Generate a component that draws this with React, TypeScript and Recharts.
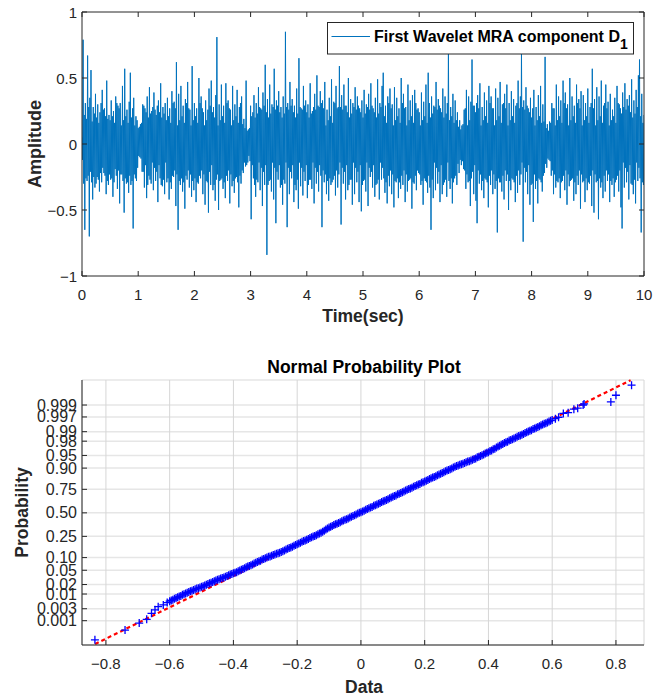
import React from 'react';
import {
  LineChart, Line, XAxis, YAxis, ScatterChart, Scatter,
  CartesianGrid, ReferenceLine,
} from 'recharts';

const FONT = '"Liberation Sans", Arial, Helvetica, sans-serif';
const AXIS_COLOR = '#262626';

// first wavelet detail D1, one value every 0.01 s (one row = 0.5 s)
const SAMPLE_STEP = 0.01;
const d1Amplitude = [
  0.05, -0.12, 0.79, -0.30, 0.22, -0.65, 0.31, -0.26, 0.19, -0.28, 0.67, -0.24, 0.28, -0.70, 0.35, -0.21, 0.56, -0.29, 0.17, -0.42, 0.28, -0.25, 0.23, -0.33, 0.38, -0.30, 0.20, -0.25, 0.30, -0.27, 0.16, -0.36, 0.24, -0.22, 0.31, -0.29, 0.41, -0.18, 0.26, -0.22, 0.27, -0.24, 0.21, -0.38, 0.48, -0.28, 0.19, -0.31, 0.22, -0.23,
  0.18, -0.27, 0.33, -0.26, 0.21, -0.40, 0.25, -0.29, 0.16, -0.19, 0.36, -0.24, 0.31, -0.34, 0.29, -0.20, 0.27, -0.45, 0.31, -0.23, 0.14, -0.23, 0.44, -0.28, 0.18, -0.52, 0.57, -0.26, 0.21, -0.30, 0.26, -0.29, 0.16, -0.37, 0.32, -0.24, 0.54, -0.31, 0.20, -0.28, 0.27, -0.64, 0.35, -0.23, 0.14, -0.26, 0.21, -0.28, 0.18, -0.18,
  0.12, -0.09, 0.13, -0.10, 0.15, -0.11, 0.16, -0.21, 0.30, -0.21, 0.29, -0.33, 0.27, -0.16, 0.24, -0.41, 0.36, -0.31, 0.20, -0.24, 0.43, -0.27, 0.23, -0.30, 0.25, -0.14, 0.28, -0.35, 0.39, -0.18, 0.26, -0.28, 0.22, -0.21, 0.29, -0.44, 0.33, -0.16, 0.24, -0.26, 0.46, -0.31, 0.20, -0.32, 0.28, -0.27, 0.23, -0.38, 0.31, -0.14,
  0.18, -0.29, 0.35, -0.26, 0.21, -0.42, 0.27, -0.29, 0.16, -0.34, 0.40, -0.24, 0.31, -0.25, 0.32, -0.20, 0.27, -0.47, 0.62, -0.23, 0.14, -0.65, 0.38, -0.28, 0.18, -0.31, 0.44, -0.26, 0.21, -0.36, 0.29, -0.29, 0.16, -0.49, 0.34, -0.24, 0.31, -0.27, 0.47, -0.20, 0.27, -0.33, 0.26, -0.23, 0.14, -0.40, 0.59, -0.28, 0.18, -0.35,
  0.31, -0.26, 0.21, -0.44, 0.27, -0.29, 0.16, -0.30, 0.50, -0.24, 0.31, -0.26, 0.36, -0.20, 0.27, -0.38, 0.24, -0.23, 0.14, -0.46, 0.33, -0.28, 0.18, -0.29, 0.26, -0.52, 0.42, -0.21, 0.29, -0.31, 0.48, -0.16, 0.24, -0.35, 0.28, -0.31, 0.20, -0.43, 0.37, -0.27, 0.81, -0.23, 0.14, -0.50, 0.30, -0.28, 0.18, -0.27, 0.45, -0.26,
  0.21, -0.34, 0.29, -0.29, 0.16, -0.41, 0.46, -0.24, 0.31, -0.28, 0.33, -0.20, 0.27, -0.45, 0.26, -0.23, 0.14, -0.32, 0.44, -0.28, 0.18, -0.37, 0.30, -0.26, 0.21, -0.25, 0.41, -0.29, 0.16, -0.48, 0.28, -0.24, 0.31, -0.30, 0.36, -0.20, 0.15, -0.22, 0.19, -0.14, 0.12, -0.17, 0.48, -0.16, 0.10, -0.14, 0.11, -0.09, 0.12, -0.13,
  0.29, -0.57, 0.21, -0.16, 0.24, -0.26, 0.37, -0.31, 0.20, -0.40, 0.31, -0.27, 0.23, -0.29, 0.43, -0.14, 0.28, -0.35, 0.27, -0.18, 0.26, -0.47, 0.39, -0.21, 0.29, -0.31, 0.60, -0.16, 0.24, -0.84, 0.34, -0.31, 0.20, -0.28, 0.45, -0.27, 0.23, -0.36, 0.30, -0.14, 0.28, -0.42, 0.57, -0.18, 0.26, -0.60, 0.33, -0.21, 0.29, -0.27,
  0.40, -0.16, 0.24, -0.33, 0.28, -0.31, 0.20, -0.46, 0.36, -0.27, 0.23, -0.30, 0.85, -0.14, 0.28, -0.63, 0.31, -0.18, 0.26, -0.38, 0.47, -0.21, 0.29, -0.26, 0.34, -0.16, 0.24, -0.44, 0.29, -0.31, 0.20, -0.35, 0.42, -0.27, 0.23, -0.49, 0.65, -0.14, 0.28, -0.32, 0.27, -0.18, 0.26, -0.39, 0.44, -0.21, 0.29, -0.28, 0.33, -0.16,
  0.24, -0.41, 0.30, -0.31, 0.20, -0.27, 0.46, -0.27, 0.23, -0.34, 0.25, -0.14, 0.28, -0.45, 0.38, -0.18, 0.26, -0.30, 0.52, -0.21, 0.29, -0.36, 0.28, -0.16, 0.40, -0.24, 0.31, -0.63, 0.33, -0.20, 0.27, -0.29, 0.47, -0.23, 0.14, -0.38, 0.26, -0.28, 0.18, -0.43, 0.35, -0.26, 0.21, -0.31, 0.49, -0.29, 0.16, -0.27, 0.32, -0.24,
  0.31, -0.39, 0.44, -0.20, 0.27, -0.33, 0.28, -0.23, 0.59, -0.14, 0.28, -0.61, 0.37, -0.18, 0.26, -0.30, 0.45, -0.21, 0.29, -0.42, 0.29, -0.16, 0.24, -0.35, 0.50, -0.31, 0.20, -0.27, 0.34, -0.27, 0.23, -0.46, 0.31, -0.14, 0.28, -0.38, 0.43, -0.18, 0.26, -0.29, 0.36, -0.21, 0.29, -0.44, 0.27, -0.16, 0.24, -0.51, 0.33, -0.31,
  0.20, -0.28, 0.41, -0.27, 0.23, -0.36, 0.30, -0.14, 0.28, -0.47, 0.38, -0.18, 0.26, -0.25, 0.46, -0.21, 0.29, -0.33, 0.27, -0.16, 0.24, -0.40, 0.35, -0.31, 0.20, -0.30, 0.49, -0.27, 0.23, -0.42, 0.31, -0.14, 0.28, -0.27, 0.44, -0.18, 0.54, -0.26, 0.21, -0.37, 0.29, -0.29, 0.16, -0.45, 0.36, -0.24, 0.31, -0.32, 0.42, -0.20,
  0.27, -0.38, 0.30, -0.23, 0.14, -0.48, 0.43, -0.28, 0.18, -0.29, 0.35, -0.26, 0.21, -0.41, 0.27, -0.29, 0.16, -0.34, 0.50, -0.24, 0.31, -0.31, 0.38, -0.20, 0.27, -0.44, 0.28, -0.23, 0.14, -0.36, 0.45, -0.28, 0.18, -0.27, 0.33, -0.26, 0.21, -0.49, 0.37, -0.29, 0.16, -0.30, 0.41, -0.24, 0.31, -0.35, 0.26, -0.20, 0.27, -0.22,
  0.24, -0.23, 0.14, -0.31, 0.39, -0.28, 0.18, -0.46, 0.32, -0.26, 0.21, -0.28, 0.45, -0.29, 0.16, -0.37, 0.54, -0.24, 0.31, -0.33, 0.20, -0.65, 0.36, -0.27, 0.23, -0.41, 0.29, -0.14, 0.28, -0.35, 0.47, -0.18, 0.26, -0.30, 0.34, -0.21, 0.29, -0.44, 0.27, -0.16, 0.24, -0.38, 0.42, -0.31, 0.20, -0.29, 0.36, -0.27, 0.23, -0.40,
  0.31, -0.14, 0.72, -0.28, 0.18, -0.34, 0.28, -0.26, 0.21, -0.45, 0.38, -0.29, 0.16, -0.26, 0.33, -0.24, 0.18, -0.31, 0.24, -0.15, 0.13, -0.22, 0.18, -0.12, 0.11, -0.16, 0.14, -0.13, 0.15, -0.19, 0.26, -0.20, 0.27, -0.34, 0.41, -0.23, 0.14, -0.29, 0.36, -0.28, 0.18, -0.47, 0.32, -0.26, 0.64, -0.21, 0.29, -0.38, 0.29, -0.16,
  0.24, -0.43, 0.31, -0.60, 0.37, -0.20, 0.27, -0.30, 0.46, -0.23, 0.14, -0.35, 0.28, -0.28, 0.18, -0.41, 0.39, -0.26, 0.21, -0.27, 0.33, -0.29, 0.16, -0.48, 0.44, -0.24, 0.31, -0.31, 0.36, -0.20, 0.27, -0.38, 0.27, -0.23, 0.14, -0.34, 0.42, -0.28, 0.18, -0.67, 0.35, -0.26, 0.21, -0.29, 0.47, -0.29, 0.16, -0.36, 0.30, -0.24,
  0.31, -0.42, 0.38, -0.20, 0.27, -0.28, 0.45, -0.23, 0.14, -0.50, 0.31, -0.28, 0.18, -0.35, 0.40, -0.26, 0.21, -0.27, 0.34, -0.29, 0.16, -0.44, 0.29, -0.24, 0.31, -0.37, 0.48, -0.20, 0.27, -0.31, 0.36, -0.23, 0.70, -0.14, 0.28, -0.74, 0.33, -0.18, 0.26, -0.29, 0.43, -0.21, 0.29, -0.38, 0.27, -0.16, 0.24, -0.46, 0.35, -0.31,
  0.20, -0.30, 0.27, -0.59, 0.41, -0.23, 0.14, -0.34, 0.28, -0.28, 0.18, -0.45, 0.37, -0.26, 0.21, -0.27, 0.44, -0.29, 0.16, -0.36, 0.30, -0.24, 0.17, -0.22, 0.66, -0.15, 0.12, -0.18, 0.15, -0.11, 0.10, -0.12, 0.17, -0.13, 0.16, -0.24, 0.31, -0.20, 0.27, -0.38, 0.27, -0.23, 0.14, -0.33, 0.45, -0.28, 0.18, -0.29, 0.36, -0.26,
  0.21, -0.41, 0.33, -0.29, 0.16, -0.28, 0.48, -0.24, 0.31, -0.35, 0.39, -0.20, 0.27, -0.46, 0.30, -0.23, 0.14, -0.32, 0.50, -0.28, 0.18, -0.27, 0.36, -0.26, 0.21, -0.43, 0.29, -0.29, 0.16, -0.38, 0.45, -0.24, 0.31, -0.31, 0.34, -0.20, 0.27, -0.49, 0.40, -0.23, 0.14, -0.29, 0.37, -0.28, 0.18, -0.44, 0.31, -0.26, 0.21, -0.35,
  0.42, -0.29, 0.16, -0.30, 0.28, -0.24, 0.31, -0.47, 0.57, -0.20, 0.27, -0.52, 0.34, -0.23, 0.14, -0.29, 0.43, -0.28, 0.18, -0.57, 0.36, -0.26, 0.21, -0.33, 0.48, -0.29, 0.16, -0.41, 0.29, -0.24, 0.31, -0.36, 0.45, -0.20, 0.27, -0.28, 0.32, -0.23, 0.14, -0.44, 0.38, -0.28, 0.18, -0.31, 0.26, -0.26, 0.21, -0.40, 0.35, -0.29,
  0.16, -0.27, 0.44, -0.24, 0.31, -0.36, 0.30, -0.20, 0.27, -0.48, 0.23, -0.64, 0.39, -0.14, 0.28, -0.33, 0.46, -0.18, 0.26, -0.29, 0.34, -0.21, 0.29, -0.42, 0.37, -0.16, 0.24, -0.30, 0.49, -0.31, 0.20, -0.38, 0.33, -0.27, 0.23, -0.45, 0.41, -0.14, 0.28, -0.28, 0.52, -0.18, 0.64, -0.26, 0.21, -0.67, 0.38, -0.29, 0.16, -0.31,
  0.22,
];

const timeTicks = [0, 1, 2, 3, 4, 5, 6, 7, 8, 9, 10];
const ampTicks = [-1, -0.5, 0, 0.5, 1];

// normal probability plot
const probLabels = ['0.001', '0.003', '0.01', '0.02', '0.05', '0.10', '0.25', '0.50', '0.75', '0.90', '0.95', '0.98', '0.99', '0.997', '0.999'];
const probZ = [-3.09, -2.748, -2.326, -2.054, -1.645, -1.282, -0.674, 0, 0.674, 1.282, 1.645, 2.054, 2.326, 2.748, 3.09];
const dataTicks = [-0.8, -0.6, -0.4, -0.2, 0, 0.2, 0.4, 0.6, 0.8];

// sorted samples (x) and their normal quantiles (y), read along the band
const sortedData = [
  -0.8345, -0.740, -0.6955, -0.672, -0.657, -0.646, -0.636, -0.620, -0.6077,
  -0.600, -0.595, -0.590, -0.585, -0.580, -0.575, -0.570, -0.565, -0.560, -0.555,
  -0.550, -0.545, -0.540, -0.535, -0.530, -0.525, -0.520, -0.515, -0.510, -0.505,
  -0.500, -0.495, -0.490, -0.485, -0.480, -0.475, -0.470, -0.465, -0.460, -0.455,
  -0.450, -0.445, -0.440, -0.435, -0.430, -0.425, -0.420, -0.415, -0.410, -0.405,
  -0.400, -0.395, -0.390, -0.385, -0.380, -0.375, -0.370, -0.365, -0.360, -0.355,
  -0.350, -0.345, -0.340, -0.335, -0.330, -0.325, -0.320, -0.315, -0.310, -0.305,
  -0.300, -0.295, -0.290, -0.285, -0.280, -0.275, -0.270, -0.265, -0.260, -0.255,
  -0.250, -0.245, -0.240, -0.235, -0.230, -0.225, -0.220, -0.215, -0.210, -0.205,
  -0.200, -0.195, -0.190, -0.185, -0.180, -0.175, -0.170, -0.165, -0.160, -0.155,
  -0.150, -0.145, -0.140, -0.135, -0.130, -0.125, -0.120, -0.115, -0.110, -0.105,
  -0.100, -0.095, -0.090, -0.085, -0.080, -0.075, -0.070, -0.065, -0.060, -0.055,
  -0.050, -0.045, -0.040, -0.035, -0.030, -0.025, -0.020, -0.015, -0.010, -0.005,
  0.000, 0.005, 0.010, 0.015, 0.020, 0.025, 0.030, 0.035, 0.040, 0.045,
  0.050, 0.055, 0.060, 0.065, 0.070, 0.075, 0.080, 0.085, 0.090, 0.095,
  0.100, 0.105, 0.110, 0.115, 0.120, 0.125, 0.130, 0.135, 0.140, 0.145,
  0.150, 0.155, 0.160, 0.165, 0.170, 0.175, 0.180, 0.185, 0.190, 0.195,
  0.200, 0.205, 0.210, 0.215, 0.220, 0.225, 0.230, 0.235, 0.240, 0.245,
  0.250, 0.255, 0.260, 0.265, 0.270, 0.275, 0.280, 0.285, 0.290, 0.295,
  0.300, 0.305, 0.310, 0.315, 0.320, 0.325, 0.330, 0.335, 0.340, 0.345,
  0.350, 0.355, 0.360, 0.365, 0.370, 0.375, 0.380, 0.385, 0.390, 0.395,
  0.400, 0.405, 0.410, 0.415, 0.420, 0.425, 0.430, 0.435, 0.440, 0.445,
  0.450, 0.455, 0.460, 0.465, 0.470, 0.475, 0.480, 0.485, 0.490, 0.495,
  0.500, 0.505, 0.510, 0.515, 0.520, 0.525, 0.530, 0.535, 0.540, 0.545,
  0.550, 0.555, 0.560, 0.565, 0.570, 0.575, 0.580, 0.585, 0.590, 0.595,
  0.600, 0.610, 0.620, 0.635, 0.650, 0.668, 0.680, 0.697, 0.700, 0.784, 0.800, 0.849,
];
const normalQuantile = [
  -3.64, -3.36, -3.16, -3.05, -2.88, -2.78, -2.69, -2.64, -2.57,
  -2.53, -2.51, -2.49, -2.46, -2.44, -2.42, -2.40, -2.38, -2.35, -2.33,
  -2.31, -2.29, -2.27, -2.25, -2.23, -2.21, -2.19, -2.17, -2.16, -2.14,
  -2.12, -2.10, -2.08, -2.06, -2.04, -2.02, -2.00, -1.98, -1.96, -1.94,
  -1.92, -1.90, -1.88, -1.87, -1.85, -1.83, -1.81, -1.79, -1.77, -1.75,
  -1.73, -1.72, -1.70, -1.67, -1.65, -1.63, -1.61, -1.59, -1.56, -1.54,
  -1.52, -1.50, -1.48, -1.45, -1.43, -1.41, -1.39, -1.37, -1.34, -1.32,
  -1.30, -1.28, -1.26, -1.25, -1.23, -1.21, -1.19, -1.17, -1.16, -1.14,
  -1.12, -1.10, -1.08, -1.05, -1.03, -1.01, -0.99, -0.97, -0.94, -0.92,
  -0.90, -0.88, -0.86, -0.83, -0.81, -0.79, -0.77, -0.75, -0.72, -0.70,
  -0.68, -0.66, -0.64, -0.61, -0.59, -0.57, -0.54, -0.51, -0.48, -0.45,
  -0.42, -0.40, -0.38, -0.35, -0.33, -0.31, -0.29, -0.27, -0.24, -0.22,
  -0.20, -0.18, -0.16, -0.13, -0.11, -0.09, -0.07, -0.05, -0.02, 0.00,
  0.02, 0.04, 0.06, 0.09, 0.11, 0.13, 0.15, 0.17, 0.20, 0.22,
  0.24, 0.26, 0.28, 0.31, 0.33, 0.35, 0.37, 0.39, 0.42, 0.44,
  0.46, 0.48, 0.50, 0.53, 0.55, 0.57, 0.59, 0.61, 0.64, 0.66,
  0.68, 0.70, 0.72, 0.75, 0.77, 0.79, 0.81, 0.83, 0.86, 0.88,
  0.90, 0.92, 0.94, 0.97, 0.99, 1.01, 1.03, 1.05, 1.08, 1.10,
  1.12, 1.14, 1.16, 1.19, 1.21, 1.23, 1.25, 1.27, 1.30, 1.32,
  1.34, 1.36, 1.38, 1.39, 1.41, 1.43, 1.45, 1.47, 1.48, 1.50,
  1.52, 1.54, 1.56, 1.59, 1.61, 1.63, 1.65, 1.67, 1.70, 1.72,
  1.74, 1.77, 1.79, 1.82, 1.84, 1.87, 1.90, 1.92, 1.95, 1.97,
  2.00, 2.02, 2.04, 2.07, 2.09, 2.11, 2.13, 2.15, 2.18, 2.20,
  2.22, 2.24, 2.26, 2.29, 2.31, 2.33, 2.35, 2.37, 2.40, 2.42,
  2.44, 2.46, 2.48, 2.51, 2.53, 2.55, 2.57, 2.59, 2.62, 2.64,
  2.66, 2.70, 2.74, 2.85, 2.87, 2.97, 3.00, 3.09, 3.12, 3.18, 3.37, 3.66,
];

// dashed reference line, drawn over the data range
const fitX = [-0.834, 0.846];
const fitZ = [-3.76, 3.80];

const signal = d1Amplitude.map((a, i) => ({ t: i * SAMPLE_STEP, a }));
const probPoints = sortedData.map((x, i) => ({ x, z: normalQuantile[i] }));

const fmt = (v: number) => String(v).replace('-', '\u2212');

const tickText = { fontFamily: FONT, fontSize: 15, fill: AXIS_COLOR };

// MATLAB style ticks, pointing into the axes
const BottomTick = (p: any) => (
  <g>
    <line x1={p.x} y1={p.y} x2={p.x} y2={p.y - 5} stroke={AXIS_COLOR} />
    <text x={p.x} y={p.y + 24} textAnchor="middle" {...tickText}>{fmt(p.payload.value)}</text>
  </g>
);
const TopTick = (p: any) => <line x1={p.x} y1={p.y} x2={p.x} y2={p.y + 5} stroke={AXIS_COLOR} />;
const LeftTick = (p: any) => (
  <g>
    <line x1={p.x} y1={p.y} x2={p.x + 5} y2={p.y} stroke={AXIS_COLOR} />
    <text x={p.x - 5} y={p.y + 5.5} textAnchor="end" {...tickText}>{fmt(p.payload.value)}</text>
  </g>
);
const RightTick = (p: any) => <line x1={p.x} y1={p.y} x2={p.x - 5} y2={p.y} stroke={AXIS_COLOR} />;
const ProbTick = (p: any) => (
  <g>
    <line x1={p.x} y1={p.y} x2={p.x + 5} y2={p.y} stroke={AXIS_COLOR} />
    <text x={p.x - 5} y={p.y + 5.5} textAnchor="end" {...tickText} fontSize={16}>
      {probLabels[probZ.indexOf(p.payload.value)]}
    </text>
  </g>
);

const PlusMarker = (p: any) => (
  <path
    d={`M${p.cx - 4},${p.cy}h8M${p.cx},${p.cy - 4}v8`}
    stroke="#0000ff"
    strokeWidth={1.3}
    fill="none"
  />
);

const labelStyle = { fontFamily: FONT, fontWeight: 700, fill: AXIS_COLOR, fontSize: 17.5 };

export default function App() {
  return (
    <div style={{ position: 'absolute', left: 0, top: 0, width: 667, height: 696, background: '#fff' }}>
      <div style={{ position: 'absolute', left: 0, top: 0 }}>
        <LineChart width={667} height={340} data={signal} margin={{ top: 10, right: 21, bottom: 34, left: 42 }}>
          <XAxis dataKey="t" type="number" domain={[0, 10]} ticks={timeTicks} interval={0} allowDataOverflow
            height={30} tickSize={0} tickMargin={0} tickLine={false} stroke={AXIS_COLOR} tick={BottomTick} />
          <XAxis xAxisId="top" dataKey="t" orientation="top" type="number" domain={[0, 10]} ticks={timeTicks} interval={0} allowDataOverflow
            height={2} tickSize={0} tickMargin={0} tickLine={false} stroke={AXIS_COLOR} tick={TopTick} />
          <YAxis type="number" domain={[-1, 1]} ticks={ampTicks} interval={0} allowDataOverflow
            width={40} tickSize={0} tickMargin={0} tickLine={false} stroke={AXIS_COLOR} tick={LeftTick} />
          <YAxis yAxisId="right" dataKey="a" orientation="right" type="number" domain={[-1, 1]} ticks={ampTicks} interval={0} allowDataOverflow
            width={2} tickSize={0} tickMargin={0} tickLine={false} stroke={AXIS_COLOR} tick={RightTick} />
          <Line type="linear" dataKey="a" stroke="#0072BD" strokeWidth={1} dot={false} isAnimationActive={false} />
        </LineChart>
      </div>

      <div style={{ position: 'absolute', left: 0, top: 340 }}>
        <ScatterChart width={667} height={356} margin={{ top: 40, right: 23, bottom: 21, left: 42 }}>
          <CartesianGrid vertical={false} stroke="#e6e6e6" strokeWidth={1.5} />
          <CartesianGrid horizontal={false} stroke="#d6d6d6" />
          <XAxis dataKey="x" type="number" domain={[-0.875, 0.888]} ticks={dataTicks} interval={0}
            height={30} tickSize={0} tickMargin={0} tickLine={false} stroke={AXIS_COLOR} tick={BottomTick} />
          <YAxis dataKey="z" type="number" domain={[-3.787, 3.807]} ticks={probZ} interval={0}
            width={40} tickSize={0} tickMargin={0} tickLine={false} stroke={AXIS_COLOR} tick={ProbTick} />
          <ReferenceLine
            segment={[{ x: fitX[0], y: fitZ[0] }, { x: fitX[1], y: fitZ[1] }]}
            stroke="#ff0000" strokeWidth={2.2} strokeDasharray="4 3"
          />
          <Scatter data={probPoints} shape={PlusMarker} isAnimationActive={false} />
        </ScatterChart>
      </div>

      <svg width={667} height={696} style={{ position: 'absolute', left: 0, top: 0, pointerEvents: 'none' }}>
        {/* legend */}
        <rect x={327.5} y={22.5} width={306} height={31.5} fill="#fff" stroke={AXIS_COLOR} />
        <line x1={331.5} x2={370} y1={36.5} y2={36.5} stroke="#0072BD" />
        <text x={374} y={41.5} fontFamily={FONT} fontWeight={700} fontSize={16} fill="#000">
          First Wavelet MRA component D<tspan dy={7} fontSize={14}>1</tspan>
        </text>

        <text x={41} y={144} transform="rotate(-90 41 144)" textAnchor="middle" {...labelStyle} fontSize={18}>Amplitude</text>
        <text x={363} y={322} textAnchor="middle" {...labelStyle}>Time(sec)</text>

        <text x={364} y={373} textAnchor="middle" {...labelStyle} fill="#000">Normal Probability Plot</text>
        <text x={27.5} y={512.5} transform="rotate(-90 27.5 512.5)" textAnchor="middle" {...labelStyle}>Probability</text>
        <text x={364} y={692.5} textAnchor="middle" {...labelStyle}>Data</text>
      </svg>
    </div>
  );
}
